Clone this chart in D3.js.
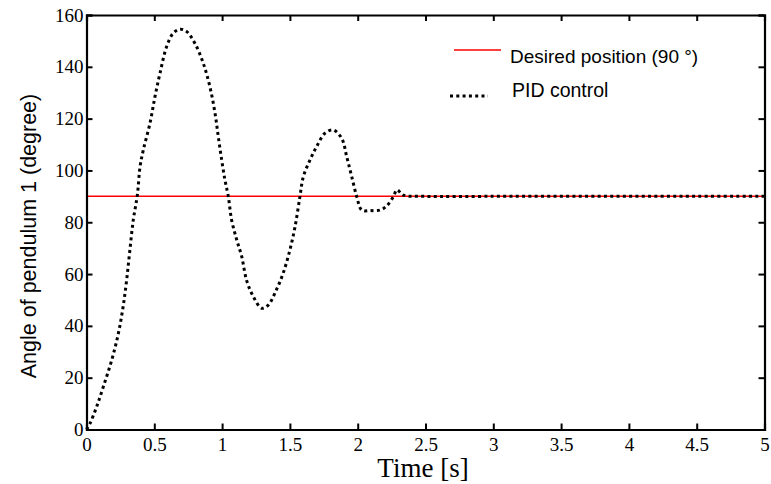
<!DOCTYPE html>
<html><head><meta charset="utf-8">
<script src="https://cdn.jsdelivr.net/npm/d3@7"></script>
<style>html,body{margin:0;padding:0;background:#fff;}</style>
</head><body>
<svg id="chart" width="771" height="484"></svg>
<script>
const timeValues = [0,0.026,0.075,0.124,0.186,0.235,0.27,0.296,0.32,0.345,0.375,0.395,0.419,0.468,0.505,0.542,0.591,0.64,0.69,0.739,0.8,0.861,0.91,0.948,0.972,0.997,1.021,1.046,1.07,1.108,1.145,1.18,1.23,1.292,1.34,1.40,1.45,1.5,1.538,1.574,1.599,1.648,1.697,1.759,1.82,1.882,1.919,1.956,1.993,2.03,2.09,2.165,2.214,2.263,2.29,2.336,2.5,3,3.5,4,4.5,5];
const pidAngle = [0,2.4,8.8,16.5,26.8,37.1,47.4,57.7,69.3,80.9,90.5,101.5,107.9,118.2,128.5,137.5,147.8,153,154.5,153.6,149,141.4,132.3,122,113,104,96.3,89.9,80.9,73.2,66.7,57.7,51.3,46.8,48,53.9,60.3,69.3,78.3,89.9,97.6,104,109.2,114.4,115.6,112.4,105.3,97.6,89.9,84.7,84.5,84.7,86.3,89.9,92.5,90.5,90,90,90,90,90,90];
const desiredTime = [0,5];
const desiredAngle = [90,90];
const xTicks = [0,0.5,1,1.5,2,2.5,3,3.5,4,4.5,5];
const yTicks = [0,20,40,60,80,100,120,140,160];
const legendLabels = ["Desired position (90 °)","PID control"];
const xLabel = "Time [s]";
const yLabel = "Angle of pendulum 1 (degree)";

const svg = d3.select("#chart");
const L = 86.5, R = 764.5, T = 15, B = 429.5;
const x = d3.scaleLinear().domain([0,5]).range([L,R]);
const y = d3.scaleLinear().domain([0,160]).range([B,T]);
const serif = "'Liberation Serif','Times New Roman',serif";
const sans = "'Liberation Sans',Arial,sans-serif";

// desired line
const line = d3.line().x(d=>x(d[0])).y(d=>y(d[1]));
svg.append("path").datum(desiredTime.map((t,i)=>[t,desiredAngle[i]]))
  .attr("d", line).attr("fill","none").attr("stroke","#ff0000").attr("stroke-width",1.5);

// PID line
const pidLine = d3.line().x(d=>x(d[0])).y(d=>y(d[1])).curve(d3.curveCatmullRom.alpha(0.5));
svg.append("path").datum(timeValues.map((t,i)=>[t,pidAngle[i]]))
  .attr("d", pidLine).attr("fill","none").attr("stroke","#000")
  .attr("stroke-width",3).attr("stroke-dasharray","3,3.3");

// axes
const xb = svg.append("g").attr("transform",`translate(0,${B})`)
  .call(d3.axisBottom(x).tickValues(xTicks).tickSize(-6).tickPadding(8).tickFormat(d3.format("")));
const xt = svg.append("g").attr("transform",`translate(0,${T})`)
  .call(d3.axisTop(x).tickValues(xTicks).tickSize(-6).tickFormat(""));
const yl = svg.append("g").attr("transform",`translate(${L},0)`)
  .call(d3.axisLeft(y).tickValues(yTicks).tickSize(-6).tickPadding(3));
const yr = svg.append("g").attr("transform",`translate(${R},0)`)
  .call(d3.axisRight(y).tickValues(yTicks).tickSize(-6).tickFormat(""));
[xb,xt,yl,yr].forEach(g=>{
  g.attr("font-family", null).attr("font-size", null);
  g.select(".domain").attr("stroke","#000").attr("stroke-width",2.2);
  g.selectAll(".tick line").attr("stroke","#000").attr("stroke-width",2);
  g.selectAll("text").style("font-family",serif).style("font-size","19px").attr("fill","#000");
});
xb.selectAll("text").attr("dy","0.71em");

// labels
svg.append("text").attr("x",423).attr("y",477).attr("text-anchor","middle")
  .style("font-family",serif).style("font-size","27px").text(xLabel);
svg.append("text").attr("transform","translate(36,236) rotate(-90)").attr("text-anchor","middle")
  .style("font-family",sans).style("font-size","21.5px").text(yLabel);

// legend
const lg = svg.append("g");
lg.append("line").attr("x1",454).attr("x2",501).attr("y1",50).attr("y2",50)
  .attr("stroke","#ff0000").attr("stroke-width",1.5);
lg.append("text").attr("x",510).attr("y",63).style("font-family",sans)
  .style("font-size","19px").text(legendLabels[0]);
lg.append("line").attr("x1",450).attr("x2",488).attr("y1",96).attr("y2",96)
  .attr("stroke","#000").attr("stroke-width",3).attr("stroke-dasharray","3,3.3");
lg.append("text").attr("x",512).attr("y",97).style("font-family",sans)
  .style("font-size","19.5px").text(legendLabels[1]);
</script>
</body></html>
